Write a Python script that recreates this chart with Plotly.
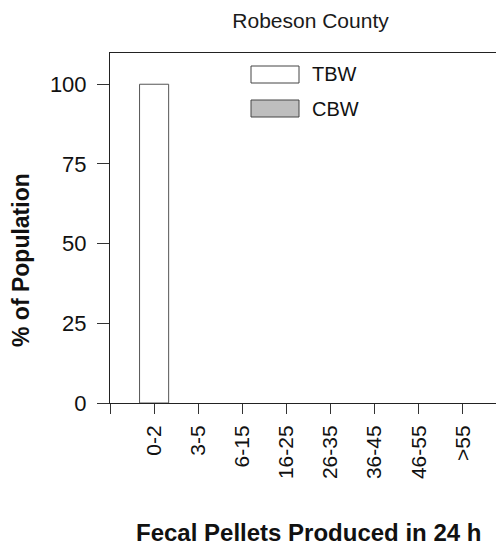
import plotly.graph_objects as go

categories = ["0-2", "3-5", "6-15", "16-25", "26-35", "36-45", "46-55", ">55"]
tbw_values = [100, 0, 0, 0, 0, 0, 0, 0]
cbw_values = [0, 0, 0, 0, 0, 0, 0, 0]
y_ticks = [0, 25, 50, 75, 100]

positions = [i + 1 for i in range(len(categories))]
FONT = "Liberation Sans, Arial, sans-serif"
TXT = "#111111"

fig = go.Figure()
fig.add_trace(go.Bar(x=positions, y=tbw_values, width=0.66, name="TBW",
                     marker=dict(color="white",
                                 line=dict(color="#555555", width=[1 if v else 0 for v in tbw_values])),
                     showlegend=False))
fig.add_trace(go.Bar(x=positions, y=cbw_values, width=0.66, name="CBW",
                     marker=dict(color="#bebebe",
                                 line=dict(color="#555555", width=[1 if v else 0 for v in cbw_values])),
                     showlegend=False))

L, T, B = 102, 45, 150
PW = 504 - L
PH = 545 - T - B

def px(xf):
    return (xf - L) / PW

def py(yf):
    return (545 - B - yf) / PH

fig.update_layout(
    width=504, height=545,
    margin=dict(l=L, r=0, t=T, b=B),
    paper_bgcolor="white", plot_bgcolor="white",
    barmode="overlay",
    font=dict(family=FONT, color=TXT, size=20),
    title=dict(text="Robeson County", x=302.5 / 504, xanchor="center", y=1 - 13 / 545, yanchor="middle",
               font=dict(family=FONT, size=21, color="#1a1a1a")),
    xaxis=dict(range=[0, PW / 44.1], tickmode="array", tickvals=[0] + positions,
               ticktext=[""] + categories, tickangle=-90, ticks="outside", ticklen=10,
               tickcolor="#333333", showline=True, linecolor="#222222", mirror=True,
               showgrid=False, zeroline=False, tickfont=dict(size=21), ticklabelstandoff=3),
    yaxis=dict(range=[0, 109.8], tickvals=y_ticks, ticks="outside", ticklen=12,
               tickcolor="#333333", showline=True, linecolor="#222222", mirror=False,
               showgrid=False, zeroline=False, tickfont=dict(size=22), ticklabelstandoff=6),
)

# axis titles
fig.add_annotation(xref="paper", yref="paper", x=px(300), y=py(524),
                   text="<b>Fecal Pellets Produced in 24 h</b>", showarrow=False,
                   xanchor="center", yanchor="middle", font=dict(size=24, color=TXT))
fig.add_annotation(xref="paper", yref="paper", x=px(13), y=py(252),
                   text="<b>% of Population</b>", showarrow=False, textangle=-90,
                   xanchor="center", yanchor="middle", font=dict(size=23, color=TXT))

# legend drawn as boxes with labels
legend_items = [("TBW", "white"), ("CBW", "#bebebe")]
for i, (name, color) in enumerate(legend_items):
    y0 = 58 + i * 34
    fig.add_shape(type="rect", xref="paper", yref="paper",
                  x0=px(243), x1=px(291), y0=py(y0 + 17), y1=py(y0),
                  fillcolor=color, line=dict(color="#444444", width=1))
    fig.add_annotation(xref="paper", yref="paper", x=px(302),
                       y=py(y0 + 8.5), text=name, showarrow=False,
                       xanchor="left", yanchor="middle", font=dict(size=20, color=TXT))

fig.write_html("out.html")
